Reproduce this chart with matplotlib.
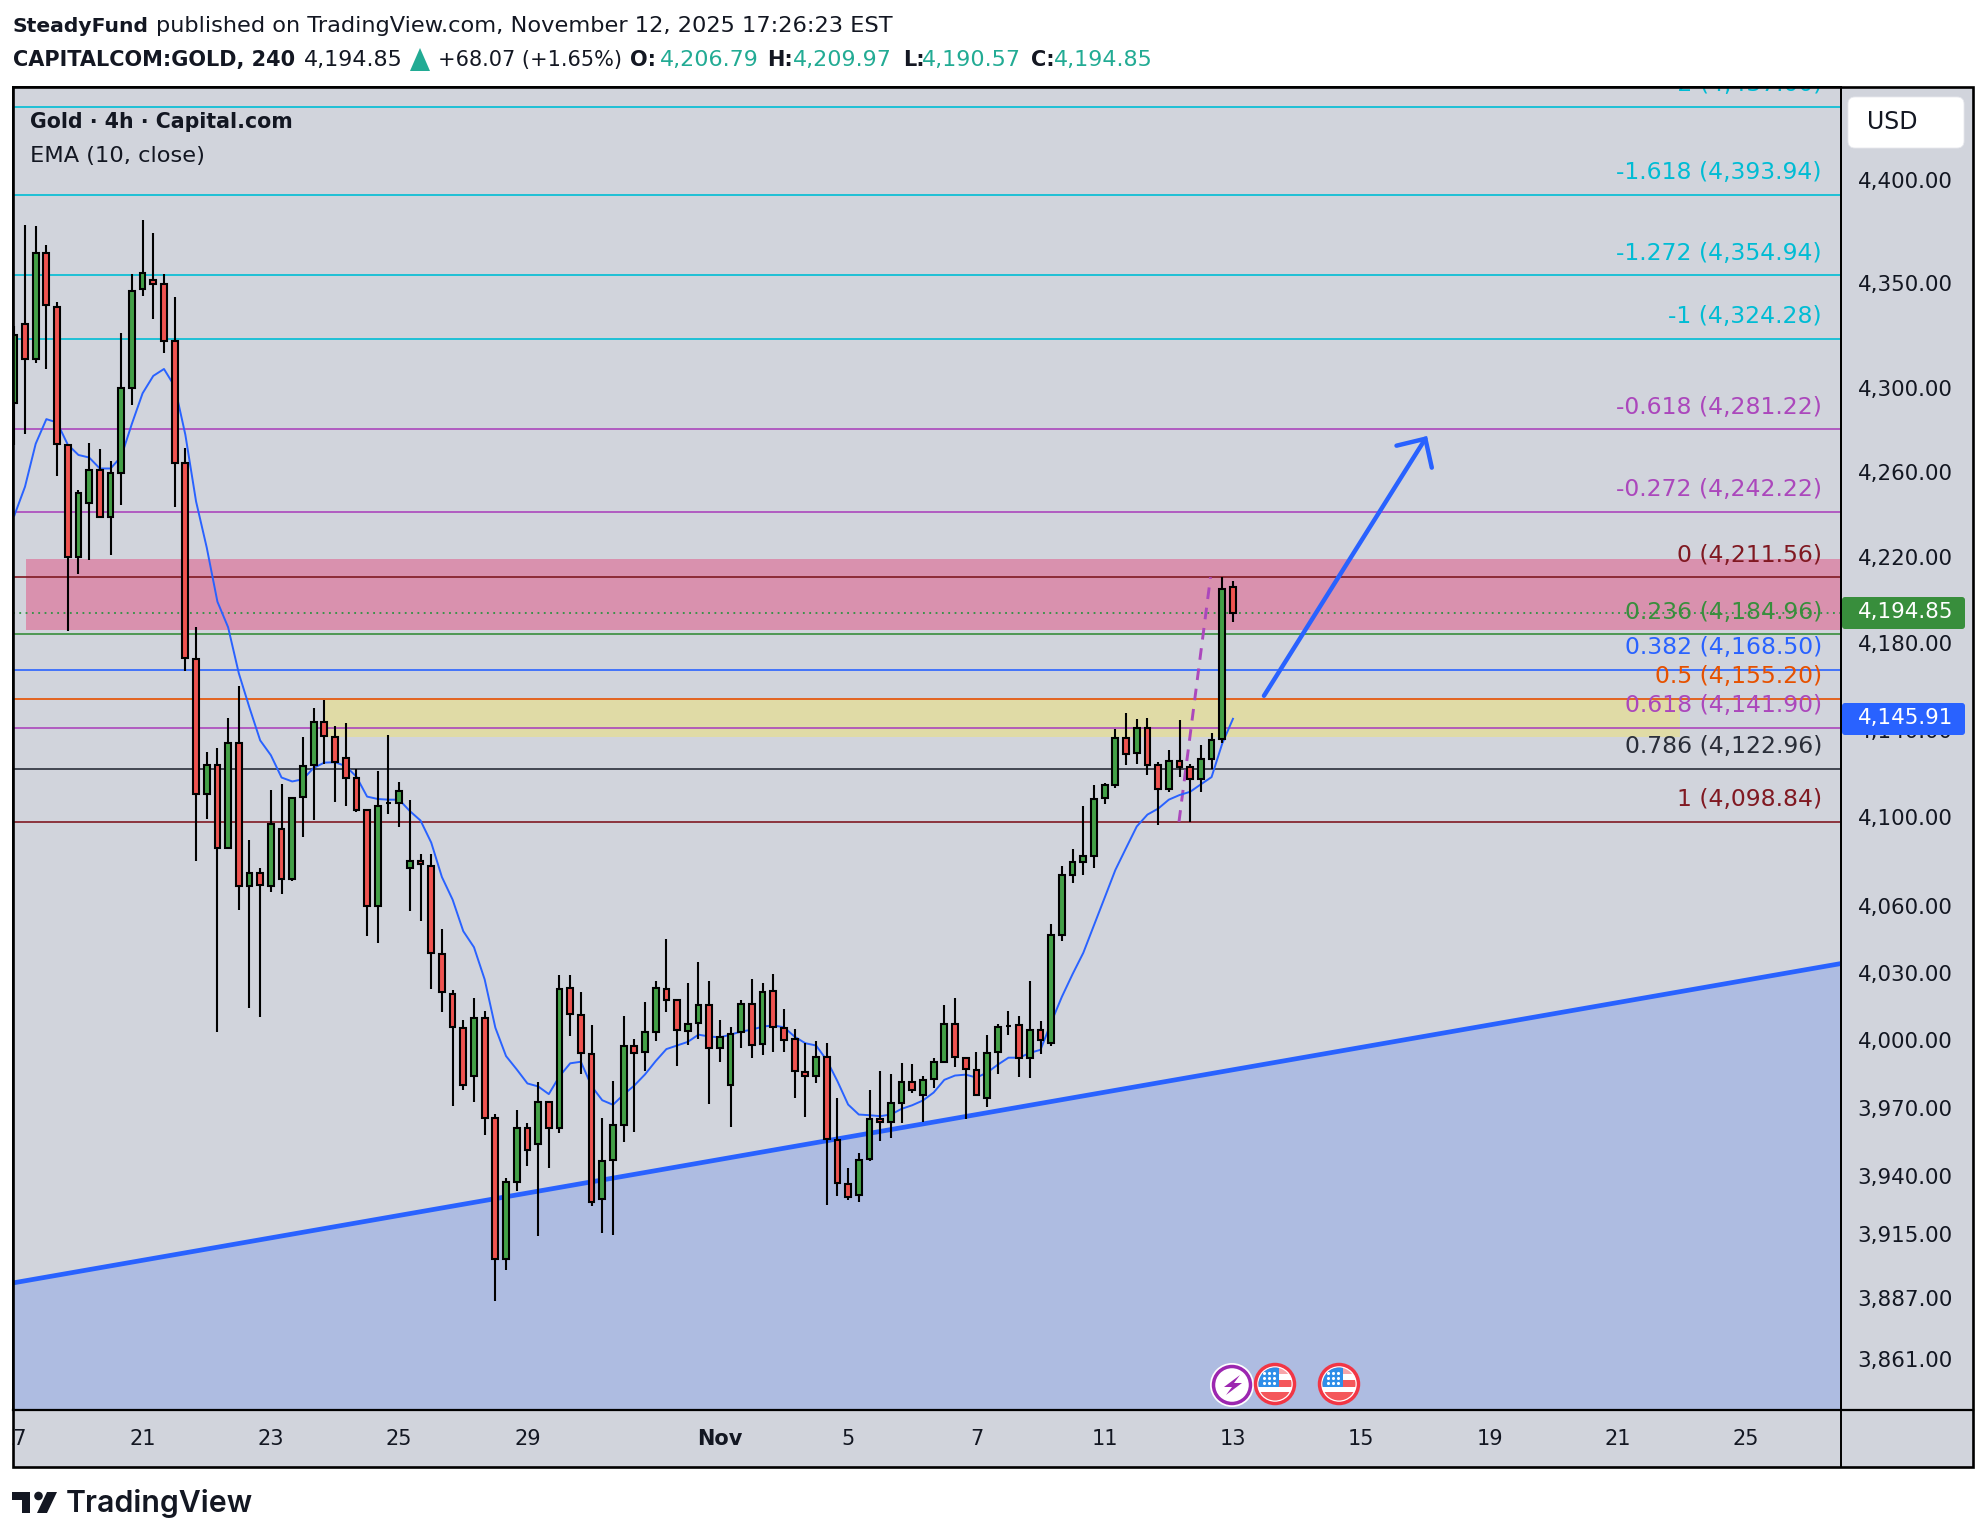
import numpy as np
import matplotlib
matplotlib.use("Agg")
import matplotlib.pyplot as plt
from matplotlib.patches import Rectangle, Circle, Polygon, FancyBboxPatch
from matplotlib.ticker import NullLocator, NullFormatter
from matplotlib.transforms import ScaledTranslation

plt.rcParams['font.family'] = ['DejaVu Sans']

# candles, first one is cut by the left frame
opens = [
    4293.9, 4331.3, 4314.5, 4365.6, 4339.8, 4273.8, 4221.1, 4246.1, 4262.1, 4239.9,
    4260.7, 4301.0, 4348.1, 4352.8, 4350.6, 4323.3, 4265.1, 4173.3, 4111.3, 4124.5,
    4087.1, 4134.7, 4069.7, 4075.4, 4069.9, 4095.4, 4072.8, 4110.2, 4124.5, 4144.4,
    4137.6, 4128.1, 4118.7, 4104.0, 4060.9, 4107.6, 4107.6, 4077.7, 4081.1, 4079.0,
    4039.1, 4021.5, 4006.1, 3984.7, 4010.5, 3966.3, 3904.7, 3938.5, 3961.9, 3954.8,
    3973.5, 3962.1, 4023.9, 4011.8, 3994.6, 3930.7, 3947.8, 3963.5, 3998.1, 3995.3,
    4004.5, 4023.4, 4018.4, 4004.9, 4008.6, 4016.3, 3997.5, 3981.1, 4004.3, 4016.7,
    3998.9, 4022.5, 4006.1, 4001.2, 3986.6, 3985.1, 3993.2, 3956.7, 3937.4, 3932.5,
    3948.2, 3965.9, 3964.4, 3973.2, 3982.2, 3976.7, 3983.4, 3991.2, 4007.9, 3992.8,
    3987.4, 3975.4, 3995.3, 4007.2, 4007.4, 3993.0, 4005.1, 3999.7, 4047.8, 4074.9,
    4080.8, 4083.4, 4109.8, 4115.4, 4137.3, 4130.1, 4141.5, 4124.6, 4113.8, 4126.4,
    4123.6, 4118.5, 4127.5, 4136.7, 4206.79]
highs = [
    4330.5, 4379.5, 4378.7, 4369.8, 4342.0, 4273.8, 4252.3, 4274.6, 4271.6, 4266.2,
    4326.9, 4355.3, 4381.7, 4375.3, 4355.3, 4344.2, 4272.2, 4188.2, 4130.7, 4132.6,
    4146.5, 4160.8, 4090.7, 4077.7, 4113.2, 4116.0, 4110.0, 4137.6, 4150.7, 4154.7,
    4142.8, 4143.9, 4122.9, 4104.2, 4121.8, 4138.4, 4116.8, 4108.7, 4084.2, 4084.2,
    4050.2, 4023.3, 4009.9, 4019.6, 4013.6, 3968.3, 3940.2, 3970.1, 3964.0, 3982.3,
    3973.9, 4029.6, 4030.0, 4022.3, 4007.3, 3966.2, 3982.5, 4011.7, 4001.1, 4017.9,
    4027.3, 4046.1, 4018.8, 4026.3, 4035.8, 4027.3, 4009.9, 4006.4, 4018.4, 4027.8,
    4026.0, 4030.4, 4014.8, 4005.5, 3999.4, 4000.6, 3999.7, 3975.4, 3944.3, 3950.9,
    3978.5, 3986.9, 3985.6, 3990.5, 3990.0, 3985.0, 3992.7, 4016.5, 4019.3, 3993.4,
    3995.3, 4003.2, 4008.1, 4013.8, 4011.6, 4027.3, 4009.1, 4052.7, 4078.6, 4086.3,
    4106.2, 4115.6, 4116.5, 4141.3, 4148.7, 4145.9, 4146.4, 4126.0, 4131.7, 4145.5,
    4125.0, 4133.7, 4139.5, 4211.56, 4209.97]
lows = [
    4273.8, 4278.9, 4312.6, 4309.9, 4259.1, 4186.6, 4213.0, 4219.4, 4239.9, 4221.9,
    4245.5, 4292.8, 4344.8, 4333.8, 4317.6, 4244.4, 4168.0, 4080.9, 4100.3, 4004.5,
    4087.1, 4058.8, 4015.1, 4011.0, 4067.1, 4066.0, 4072.0, 4092.0, 4099.8, 4125.2,
    4107.9, 4106.1, 4103.2, 4047.2, 4044.2, 4102.4, 4096.4, 4058.5, 4053.9, 4023.6,
    4013.2, 3971.6, 3978.9, 3973.3, 3958.9, 3886.7, 3900.1, 3934.6, 3945.3, 3914.8,
    3944.4, 3959.7, 4002.5, 3985.6, 3927.8, 3916.1, 3915.2, 3955.8, 3960.2, 3986.9,
    4000.3, 4013.2, 3989.3, 3998.6, 4001.5, 3972.4, 3990.9, 3962.3, 3997.5, 3992.7,
    3994.4, 3995.3, 3995.3, 3975.4, 3966.6, 3982.0, 3928.5, 3932.0, 3930.3, 3929.4,
    3947.4, 3956.2, 3957.4, 3964.0, 3977.6, 3964.4, 3979.4, 3991.2, 3988.8, 3966.0,
    3976.4, 3971.2, 3985.8, 4003.0, 3984.4, 3983.9, 3994.6, 3998.1, 4045.0, 4071.3,
    4074.7, 4077.9, 4106.7, 4114.3, 4124.5, 4125.0, 4120.0, 4097.3, 4112.3, 4119.1,
    4098.84, 4112.3, 4122.8, 4134.6, 4190.57]
closes = [
    4326.3, 4314.5, 4365.6, 4340.4, 4274.1, 4221.1, 4250.9, 4262.1, 4239.9, 4260.5,
    4300.8, 4347.5, 4356.2, 4350.9, 4323.3, 4265.4, 4173.8, 4111.3, 4124.5, 4087.1,
    4134.7, 4069.7, 4075.4, 4070.0, 4097.8, 4073.1, 4109.7, 4124.2, 4144.4, 4137.8,
    4126.0, 4118.9, 4104.2, 4060.9, 4106.1, 4107.6, 4112.9, 4081.1, 4079.5, 4039.5,
    4022.1, 4006.4, 3981.1, 4010.5, 3966.2, 3904.7, 3938.3, 3961.9, 3952.2, 3973.5,
    3962.1, 4023.6, 4012.2, 3994.9, 3929.8, 3947.5, 3963.2, 3998.1, 3995.2, 4004.3,
    4023.9, 4018.8, 4005.1, 4007.9, 4016.3, 3997.5, 4002.0, 4003.4, 4016.7, 3998.4,
    4022.1, 4006.4, 4001.0, 3986.9, 3984.7, 3993.2, 3957.0, 3937.7, 3931.6, 3948.0,
    3965.9, 3964.4, 3972.9, 3982.2, 3978.9, 3983.0, 3991.0, 4007.9, 3993.5, 3987.8,
    3976.5, 3994.9, 4006.5, 4007.2, 3993.0, 4005.3, 4000.9, 4047.6, 4074.5, 4080.4,
    4083.1, 4109.4, 4115.4, 4137.3, 4129.9, 4141.5, 4124.8, 4113.8, 4126.4, 4123.9,
    4118.5, 4127.3, 4136.4, 4206.2, 4194.85]
ema = [
    4240.4, 4254.0, 4274.3, 4286.0, 4284.4, 4273.9, 4269.0, 4267.8, 4262.6, 4262.6,
    4268.2, 4283.8, 4298.3, 4306.6, 4309.9, 4301.6, 4278.6, 4247.1, 4225.4, 4200.1,
    4188.2, 4166.9, 4151.0, 4136.0, 4129.2, 4119.0, 4117.2, 4118.2, 4123.4, 4125.8,
    4126.0, 4124.2, 4119.4, 4110.3, 4109.2, 4108.9, 4108.9, 4103.7, 4099.4, 4089.4,
    4073.8, 4063.6, 4049.4, 4042.2, 4027.8, 4006.3, 3993.7, 3987.8, 3981.6, 3980.3,
    3976.9, 3984.8, 3990.5, 3991.2, 3980.4, 3974.2, 3972.2, 3976.7, 3980.7, 3985.6,
    3991.5, 3996.8, 3998.4, 4000.0, 4003.2, 4002.4, 4002.0, 4003.2, 4004.6, 4005.4,
    4006.8, 4007.3, 4006.5, 4002.3, 3999.4, 3998.4, 3991.9, 3982.6, 3972.3, 3967.9,
    3967.6, 3967.2, 3967.9, 3970.4, 3972.0, 3974.1, 3977.6, 3983.2, 3985.1, 3985.5,
    3984.2, 3986.4, 3989.9, 3993.0, 3993.0, 3995.1, 3996.5, 4008.7, 4020.1, 4030.2,
    4039.7, 4052.1, 4064.5, 4077.0, 4086.9, 4096.7, 4102.1, 4104.8, 4108.9, 4111.0,
    4112.5, 4115.9, 4119.2, 4134.6, 4145.91]

fib_ratios = ['-2', '-1.618', '-1.272', '-1', '-0.618', '-0.272', '0', '0.236', '0.382', '0.5', '0.618', '0.786', '1']
fib_prices = [4437.00, 4393.94, 4354.94, 4324.28, 4281.22, 4242.22, 4211.56, 4184.96, 4168.50, 4155.20, 4141.90, 4122.96, 4098.84]
fib_colors = ['#00bcd4', '#00bcd4', '#00bcd4', '#00bcd4', '#ab47bc', '#ab47bc', '#801922', '#388e3c',
              '#2962ff', '#e65100', '#ab47bc', '#2a2e39', '#801922']

price_ticks = [4400, 4350, 4300, 4260, 4220, 4180, 4140, 4100, 4060, 4030, 4000, 3970, 3940, 3915, 3887, 3861]
date_pos = [-1, 11, 23, 35, 47, 65, 77, 89, 101, 113, 125, 137, 149, 161]
date_labels = ['17', '21', '23', '25', '29', 'Nov', '5', '7', '11', '13', '15', '19', '21', '25']

pink_zone = [4186.9, 4220.2]
yellow_zone = [4137.5, 4154.7]
last_price = 4194.85
ema_last = 4145.91

trend_x = [-1.12, 169.88]
trend_y = [3894.5, 4034.9]
arrow_x = [115.9, 131.0]
arrow_y = [4156.5, 4276.7]
head_x = [128.3, 131.0, 131.6]
head_y = [4273.4, 4276.7, 4263.0]
fib_trend_x = [107.95, 110.9]
fib_trend_y = [4098.84, 4211.56]

BG = '#d1d4dc'
INK = '#131722'
TEAL = '#22ab94'
BLUE = '#2962ff'
GREEN = '#43a047'
RED = '#ef5350'

W, H = 1986, 1540
fig = plt.figure(figsize=(W / 100, H / 100), dpi=100, facecolor='white')

# chart pane, placed in pixels
L, R, T, B = 13, 1841, 87, 1410
ax = fig.add_axes([L / W, 1 - B / H, (R - L) / W, (B - T) / H], facecolor=BG)
ax.set_yscale('log')
ax.set_xlim(-1.1226, 169.88)
ax.set_ylim(3840.0, 4446.8)

ax.fill_between(trend_x, trend_y, [3840, 3840], color='#aebce1', lw=0, zorder=1)
ax.axhspan(pink_zone[0], pink_zone[1], xmin=(0.1 + 1.1226) / 171.0, color='#d991ae', lw=0, zorder=1)
ax.fill_between([28, 154.8], yellow_zone[0], yellow_zone[1], color='#e0dba6', lw=0, zorder=1)

ax.axhline(last_price, color='#2e9142', lw=1.3, ls=(0, (1, 2.5)), zorder=2)
for ratio, price, col in zip(fib_ratios, fib_prices, fib_colors):
    ax.axhline(price, color=col, lw=1.2, zorder=2)
    ax.annotate(f'{ratio} ({price:,.2f})', (168.1, price), xytext=(0, 22), textcoords='offset pixels',
                ha='right', va='center', color=col, fontsize=16.9, zorder=7, clip_on=True,
                annotation_clip=False)

ax.plot(trend_x, trend_y, color=BLUE, lw=3.4, zorder=3, solid_capstyle='butt')
ax.plot(fib_trend_x, fib_trend_y, color='#ab47bc', lw=2.1, ls=(0, (4, 3)), zorder=3)

x = np.arange(-1, 114)
ax.plot(x, ema, color=BLUE, lw=1.4, zorder=3)

o = np.array(opens)
c = np.array(closes)
body_col = [GREEN if b >= a else RED for a, b in zip(o, c)]
ax.vlines(x, lows, highs, color='black', lw=1.5, zorder=4)
ax.bar(x, np.abs(c - o), bottom=np.minimum(o, c), width=0.54, color=body_col, edgecolor='black', lw=1.5, zorder=5)

ax.plot(arrow_x, arrow_y, color=BLUE, lw=3.2, zorder=6, solid_capstyle='round')
ax.plot(head_x, head_y, color=BLUE, lw=3.2, zorder=6, solid_capstyle='round', solid_joinstyle='miter')

ax.yaxis.tick_right()
ax.set_yticks(price_ticks, [f'{v:,.2f}' for v in price_ticks])
ax.yaxis.set_minor_locator(NullLocator())
ax.yaxis.set_minor_formatter(NullFormatter())
ax.tick_params(axis='y', which='major', length=0, pad=12, labelsize=15.4, labelcolor=INK)
ax.set_xticks(date_pos, date_labels)
ax.tick_params(axis='x', length=0, pad=13.5, labelsize=15, labelcolor=INK)
shift = ScaledTranslation(0, 2 / 100, fig.dpi_scale_trans)
for tick in ax.yaxis.get_major_ticks():
    tick.label2.set_transform(tick.label2.get_transform() + shift)
for lab in ax.get_xticklabels():
    if lab.get_text() == 'Nov':
        lab.set_fontweight('bold')
for s in ax.spines.values():
    s.set_linewidth(1.4)
    s.set_color('black')

# background of the axis strips
fig.add_artist(Rectangle((L / W, 1 - 1467 / H), (1973 - L) / W, (1467 - T) / H, transform=fig.transFigure,
                         facecolor=BG, edgecolor='none', zorder=-1))

# everything outside the data goes on a pixel overlay
ov = fig.add_axes([0, 0, 1, 1], zorder=5)
ov.set_xlim(0, W)
ov.set_ylim(H, 0)
ov.axis('off')

ov.add_patch(Rectangle((0, 1412), 12, 55, facecolor='white', edgecolor='none'))
ov.add_patch(Rectangle((L, T), 1973 - L, 1467 - T, facecolor='none', edgecolor='black', lw=1.9))
ov.plot([R, R], [T, 1467], color='black', lw=1.4)
ov.plot([L, 1973], [B, B], color='black', lw=1.6)

ov.text(13, 26.5, 'SteadyFund', fontsize=14.6, fontweight='bold', color=INK, va='center')
ov.text(156, 26.5, 'published on TradingView.com, November 12, 2025 17:26:23 EST', fontsize=16.2, color=INK, va='center')
ov.text(13, 60, 'CAPITALCOM:GOLD, 240', fontsize=15, fontweight='bold', color=INK, va='center')
ov.text(304, 60, f'{closes[-1]:,.2f}', fontsize=16, color=INK, va='center')
ov.add_patch(Polygon([[410, 71], [430, 71], [420, 48]], facecolor=TEAL, edgecolor='none'))
ov.text(438, 60, '+68.07 (+1.65%)', fontsize=15, color=INK, va='center')
for lx, vx, name, val in [(630, 660, 'O:', opens[-1]), (767, 793, 'H:', highs[-1]),
                          (903, 922, 'L:', lows[-1]), (1031, 1054, 'C:', closes[-1])]:
    ov.text(lx, 60, name, fontsize=15, fontweight='bold', color=INK, va='center')
    ov.text(vx, 60, f'{val:,.2f}', fontsize=16, color=TEAL, va='center')

ov.text(30, 121.5, 'Gold · 4h · Capital.com', fontsize=14.8, fontweight='bold', color=INK, va='center')
ov.text(30, 156, 'EMA (10, close)', fontsize=16.2, color=INK, va='center')

ov.add_patch(FancyBboxPatch((1852, 101), 108, 43, boxstyle='round,pad=4,rounding_size=7',
                            facecolor='white', edgecolor='#e8e9ee', lw=0.6))
ov.text(1867, 122, 'USD', fontsize=17, color=INK, va='center')

ov.add_patch(FancyBboxPatch((1845, 600), 117, 26, boxstyle='round,pad=3,rounding_size=3',
                            facecolor='#388e3c', edgecolor='none'))
ov.text(1858, 612, f'{last_price:,.2f}', fontsize=15.4, color='white', va='center')
ov.add_patch(FancyBboxPatch((1845, 706), 117, 26, boxstyle='round,pad=3,rounding_size=3',
                            facecolor=BLUE, edgecolor='none'))
ov.text(1858, 718, f'{ema_last:,.2f}', fontsize=15.4, color='white', va='center')

# event icons along the bottom
ov.add_patch(Circle((1232, 1385), 22, facecolor='white', edgecolor='none', zorder=3))
ov.add_patch(Circle((1232, 1385), 18.5, facecolor='white', edgecolor='#9c27b0', lw=2.5, zorder=3))
ov.add_patch(Polygon(np.array([[8, -10], [-8, 2], [0, 2], [-6, 10], [10, -2], [2, -2]]) + [1232, 1385],
                     facecolor='#9c27b0', edgecolor='none', zorder=4))
for cx in (1275, 1339):
    cy = 1384
    disc = Circle((cx, cy), 19.5, facecolor='white', edgecolor='#f23645', lw=2.5, zorder=5)
    ov.add_patch(disc)
    clip = Circle((cx, cy), 16.5, transform=ov.transData)
    parts = [((cx - 17, cy - 17), 34, 7, '#f7a5a9'), ((cx - 17, cy - 4), 34, 7, '#f4575a'),
             ((cx - 17, cy + 8), 34, 10, '#f4575a'), ((cx - 17, cy - 17), 21, 19.5, '#2f8ee8')]
    for xy, pw, ph, col in parts:
        r = ov.add_patch(Rectangle(xy, pw, ph, facecolor=col, edgecolor='none', zorder=6))
        r.set_clip_path(clip)
    dots_x = [cx - 11, cx - 6, cx - 1, cx - 11, cx - 6, cx - 1, cx - 11, cx - 6, cx - 1]
    dots_y = [cy - 11, cy - 11, cy - 11, cy - 6, cy - 6, cy - 6, cy - 1, cy - 1, cy - 1]
    ov.scatter(dots_x, dots_y, s=5, color='white', lw=0, zorder=7)

# TradingView logo
ov.add_patch(Polygon([[12, 1492], [30, 1492], [30, 1513], [22, 1513], [22, 1500], [12, 1500]], facecolor=INK, edgecolor='none'))
ov.add_patch(Circle((38.5, 1496), 4.3, facecolor=INK, edgecolor='none'))
ov.add_patch(Polygon([[47, 1492], [57, 1492], [47, 1513], [37, 1513]], facecolor=INK, edgecolor='none'))
ov.text(66, 1504, 'TradingView', family='Inter', fontsize=21.8, fontweight='semibold', color=INK, va='center')

fig.savefig('out.png', dpi=100)
